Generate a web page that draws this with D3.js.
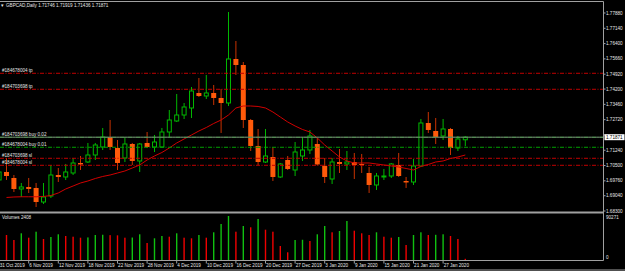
<!DOCTYPE html>
<html>
<head>
<meta charset="utf-8">
<script src="https://cdn.jsdelivr.net/npm/d3@7"></script>
<style>
  html, body { margin: 0; padding: 0; background: #000; overflow: hidden; }
  svg { display: block; }
  text { font-family: "Liberation Sans", Arial, sans-serif; font-size: 4.6px; fill: #e6e6e6; }
</style>
</head>
<body>
<svg id="chart" width="625" height="271"></svg>
<script>
// GBPCAD daily bars, 31 Oct 2019 .. 30 Jan 2020
const dates = [
  "2019-10-31",
  "2019-11-01","2019-11-04","2019-11-05","2019-11-06","2019-11-07","2019-11-08",
  "2019-11-11","2019-11-12","2019-11-13","2019-11-14","2019-11-15",
  "2019-11-18","2019-11-19","2019-11-20","2019-11-21","2019-11-22",
  "2019-11-25","2019-11-26","2019-11-27","2019-11-28","2019-11-29",
  "2019-12-02","2019-12-03","2019-12-04","2019-12-05","2019-12-06",
  "2019-12-09","2019-12-10","2019-12-11","2019-12-12","2019-12-13",
  "2019-12-16","2019-12-17","2019-12-18","2019-12-19","2019-12-20",
  "2019-12-23","2019-12-24","2019-12-26","2019-12-27",
  "2019-12-30","2019-12-31","2020-01-02","2020-01-03",
  "2020-01-06","2020-01-07","2020-01-08","2020-01-09","2020-01-10",
  "2020-01-13","2020-01-14","2020-01-15","2020-01-16","2020-01-17",
  "2020-01-20","2020-01-21","2020-01-22","2020-01-23","2020-01-24",
  "2020-01-27","2020-01-28","2020-01-29","2020-01-30"
];

const opens = [1.69801,1.70188,1.69897,1.69365,1.69462,1.69414,1.68736,1.69026,1.70042,1.69946,
  1.70139,1.70623,1.70671,1.71010,1.71397,1.71881,1.71349,1.70865,1.71542,1.70720,
  1.71591,1.71397,1.71397,1.72123,1.72655,1.72945,1.73284,1.74010,1.73865,1.74010,
  1.73768,1.73526,1.75655,1.75364,1.72703,1.71446,1.70671,1.70913,1.69946,1.70768,
  1.70284,1.70962,1.71252,1.71542,1.70478,1.69849,1.70671,1.70575,1.70671,1.70575,
  1.70139,1.69559,1.69946,1.69994,1.70526,1.69752,1.69704,1.70478,1.72558,1.72171,
  1.71929,1.72268,1.71349,1.71746];

const highs = [1.70381,1.70865,1.70042,1.69655,1.69897,1.69655,1.69655,1.70526,1.70381,1.70575,
  1.70865,1.70962,1.71591,1.71591,1.72316,1.72703,1.71736,1.71881,1.71591,1.71591,
  1.72123,1.71978,1.72316,1.73187,1.73961,1.73526,1.74300,1.74735,1.74881,1.74397,
  1.74203,1.77928,1.76525,1.75509,1.72752,1.72268,1.72268,1.71397,1.70623,1.70962,
  1.71639,1.71881,1.72220,1.71833,1.70865,1.70865,1.71300,1.71204,1.71107,1.71059,
  1.70430,1.70139,1.70333,1.70623,1.71107,1.69946,1.70817,1.72752,1.73090,1.72800,
  1.72752,1.72316,1.71929,1.71919];

const lows = [1.69655,1.69801,1.69220,1.68978,1.69172,1.68494,1.68640,1.68930,1.69704,1.69801,
  1.70042,1.70284,1.70623,1.70768,1.71252,1.71252,1.70284,1.70671,1.70526,1.70188,
  1.71349,1.71155,1.71349,1.71881,1.72607,1.72752,1.72800,1.73816,1.73719,1.73429,
  1.72075,1.73381,1.74881,1.72316,1.71204,1.70526,1.70623,1.69752,1.69897,1.70284,
  1.69994,1.70720,1.71059,1.70502,1.69655,1.69607,1.70139,1.70284,1.69849,1.70139,
  1.69172,1.69317,1.69801,1.69897,1.69946,1.69414,1.69559,1.70454,1.72075,1.71542,
  1.71736,1.71010,1.71204,1.71436];

const closes = [1.70188,1.69994,1.69365,1.69462,1.69365,1.68736,1.68978,1.70042,1.69946,1.70188,
  1.70623,1.70551,1.71010,1.71494,1.71881,1.71397,1.70623,1.71542,1.70720,1.71542,
  1.71397,1.71639,1.72123,1.72703,1.72945,1.73332,1.74106,1.73865,1.74010,1.73768,
  1.73526,1.75655,1.75364,1.72703,1.71446,1.70671,1.70962,1.69946,1.70575,1.70333,
  1.71155,1.71252,1.71929,1.70551,1.69946,1.70671,1.70575,1.70671,1.70526,1.70526,
  1.69559,1.69994,1.69994,1.70575,1.69994,1.69680,1.70478,1.72558,1.72220,1.71881,
  1.72268,1.71349,1.71784,1.71871];

const volumes = [61550,51290,41030,54780,45750,58060,43080,47190,52730,49240,
  47800,45750,46300,51290,51800,51000,50600,45750,46100,52730,
  34880,44520,49240,47800,54780,45750,44520,51290,45750,56830,
  73860,90271,58060,69750,67090,84120,62160,58060,28720,15800,
  41030,41500,38980,52730,69750,56830,59500,80010,60110,54780,
  51290,56830,47800,45750,47190,30770,51290,56830,51290,51700,
  52730,49240,43080,2408];

// moving average
const maValues = [null,1.68954,1.68978,1.68988,1.68988,1.68988,1.69002,1.69051,1.69172,1.69365,
  1.69510,1.69655,1.69752,1.69873,1.69970,1.70042,1.70139,1.70236,1.70381,1.70526,
  1.70768,1.70962,1.71131,1.71349,1.71591,1.71784,1.71978,1.72171,1.72340,1.72534,
  1.72703,1.72945,1.73284,1.73381,1.73381,1.73357,1.73284,1.73090,1.72848,1.72607,
  1.72413,1.72244,1.72123,1.71833,1.71494,1.71204,1.70913,1.70720,1.70623,1.70623,
  1.70623,1.70575,1.70526,1.70478,1.70430,1.70357,1.70284,1.70454,1.70551,1.70671,
  1.70720,1.70841,1.70913,1.71010];

const priceTicks = [1.77880,1.77140,1.76400,1.75660,1.74920,1.74200,1.73460,1.72720,1.71980,1.71240,1.70500,1.69760,1.69040,1.68300];
const dateTicks = ["2019-10-31","2019-11-06","2019-11-12","2019-11-18","2019-11-22","2019-11-28","2019-12-04","2019-12-10",
  "2019-12-16","2019-12-20","2019-12-27","2020-01-03","2020-01-09","2020-01-15","2020-01-21","2020-01-27"];

const orderLabels = ["#184678004 tp","#184703698 tp","#184703698 buy 0.02","#184678004 buy 0.01","#184703698 sl","#184678004 sl"];
const orderPrices = [1.74963,1.74189,1.71866,1.71383,1.70850,1.70511];
const orderKinds = ["stop","stop","open","open","stop","stop"];

const volMax = 90271;

// layout
const W = 625, H = 271;
const plotRight = 603.5;
const mainBottom = 212.5, volBottom = 260.5;

const svg = d3.select("#chart");
svg.append("rect").attr("width", W).attr("height", H).attr("fill", "#000");

const defs = svg.append("defs");
defs.append("clipPath").attr("id", "clipMain")
  .append("rect").attr("x", 0).attr("y", 2).attr("width", plotRight).attr("height", mainBottom - 3);
defs.append("clipPath").attr("id", "clipVol")
  .append("rect").attr("x", 0).attr("y", mainBottom + 1).attr("width", plotRight).attr("height", volBottom - mainBottom - 1);

const x = d3.scalePoint().domain(dates).range([-0.9, 465.3]);
const y = d3.scaleLinear().domain([1.68300, 1.77880]).range([211, 13]);
const yv = d3.scaleLinear().domain([0, volMax]).range([260, 216]);

const bars = dates.map((d, i) => ({
  date: d, o: opens[i], h: highs[i], l: lows[i], c: closes[i], v: volumes[i], i
}));

const upCol = "#00b800", downFill = "#ff5a0a", downWick = "#c83200";

const main = svg.append("g").attr("clip-path", "url(#clipMain)");

// candles
const candle = main.selectAll("g.candle").data(bars).enter().append("g").attr("class", "candle");
candle.append("line")
  .attr("x1", d => x(d.date)).attr("x2", d => x(d.date))
  .attr("y1", d => y(d.h)).attr("y2", d => y(d.l))
  .attr("stroke", d => d.c >= d.o ? upCol : downWick)
  .attr("stroke-width", 1);
candle.append("rect")
  .attr("x", d => d.c >= d.o ? x(d.date) - 2 : x(d.date) - 2.5)
  .attr("width", d => d.c >= d.o ? 4 : 5)
  .attr("y", d => y(Math.max(d.o, d.c)))
  .attr("height", d => Math.max(1, Math.abs(y(d.o) - y(d.c))))
  .attr("fill", d => d.c >= d.o ? "#000" : downFill)
  .attr("stroke", d => d.c >= d.o ? upCol : "none")
  .attr("stroke-width", 1);

// moving average
const maLine = d3.line()
  .defined(d => d != null)
  .x((d, i) => x(dates[i]))
  .y(d => y(d));
main.append("path")
  .datum(maValues)
  .attr("d", maLine)
  .attr("fill", "none")
  .attr("stroke", "#d00000")
  .attr("stroke-width", 1);

// order lines (tp / sl red, open price green)
orderPrices.forEach((p, k) => {
  main.append("line")
    .attr("x1", 0).attr("x2", plotRight)
    .attr("y1", y(p)).attr("y2", y(p))
    .attr("stroke", orderKinds[k] === "open" ? "#00a000" : "#c00000")
    .attr("stroke-width", 1)
    .attr("stroke-dasharray", "4,1.5,1,1.5");
  main.append("text")
    .attr("x", 2).attr("y", y(p) - 1.3)
    .text(orderLabels[k]);
});

// bid line
const bid = closes[closes.length - 1];
main.append("line")
  .attr("x1", 0).attr("x2", plotRight)
  .attr("y1", y(bid)).attr("y2", y(bid))
  .attr("stroke", "#7a8a7a").attr("stroke-width", 1);

// volumes
const vol = svg.append("g").attr("clip-path", "url(#clipVol)");
vol.selectAll("rect").data(bars).enter().append("rect")
  .attr("x", d => x(d.date) - 0.7)
  .attr("width", 1.4)
  .attr("y", d => yv(d.v))
  .attr("height", d => yv(0) - yv(d.v))
  .attr("fill", (d, i) => (i === 0 || d.v > volumes[i - 1]) ? "#10c010" : "#f00000");

// frame
const frameCol = "#a0a0a0";
svg.append("line").attr("x1", 0).attr("x2", plotRight).attr("y1", 1.5).attr("y2", 1.5).attr("stroke", frameCol);
svg.append("line").attr("x1", plotRight).attr("x2", plotRight).attr("y1", 1.5).attr("y2", volBottom).attr("stroke", frameCol);
svg.append("line").attr("x1", 0).attr("x2", plotRight).attr("y1", mainBottom).attr("y2", mainBottom).attr("stroke", frameCol).attr("stroke-width", 2);
svg.append("line").attr("x1", 0).attr("x2", plotRight).attr("y1", volBottom).attr("y2", volBottom).attr("stroke", frameCol);
svg.append("line").attr("x1", 0).attr("x2", W).attr("y1", 270).attr("y2", 270).attr("stroke", frameCol);

// price axis (the label under the bid box is hidden, as in the terminal)
const fmt5 = d3.format(".5f");
priceTicks.forEach(t => {
  svg.append("line").attr("x1", plotRight).attr("x2", plotRight + 2)
    .attr("y1", y(t)).attr("y2", y(t)).attr("stroke", frameCol);
  if (Math.abs(y(t) - y(bid)) > 5) {
    svg.append("text").attr("x", 606).attr("y", y(t) + 1.6).text(fmt5(t));
  }
});

// current price box
svg.append("rect").attr("x", 604.5).attr("y", y(bid) - 3).attr("width", 20).attr("height", 6).attr("fill", "#fff");
svg.append("text").attr("x", 606).attr("y", y(bid) + 1.6).style("fill", "#000").text(fmt5(bid));

// volume axis
svg.append("text").attr("x", 606).attr("y", 219).text(volMax);
svg.append("text").attr("x", 606).attr("y", 259).text("0");

// date axis
const parse = d3.timeParse("%Y-%m-%d");
const fmtDate = d3.timeFormat("%-d %b %Y");
dateTicks.forEach(d => {
  const tx = x(d);
  svg.append("line").attr("x1", tx).attr("x2", tx).attr("y1", volBottom).attr("y2", volBottom + 3).attr("stroke", frameCol);
  svg.append("text").attr("x", tx + 0.6).attr("y", 266.8).text(fmtDate(parse(d)));
});

// titles
svg.append("text").attr("x", 1).attr("y", 6.8).text("\u25BE");
svg.append("text").attr("x", 6).attr("y", 6.8)
  .text("GBPCAD,Daily  " + [opens, highs, lows, closes].map(a => fmt5(a[a.length - 1])).join(" "));
svg.append("text").attr("x", 2).attr("y", 219.3).text("Volumes " + volumes[volumes.length - 1]);
</script>
</body>
</html>
